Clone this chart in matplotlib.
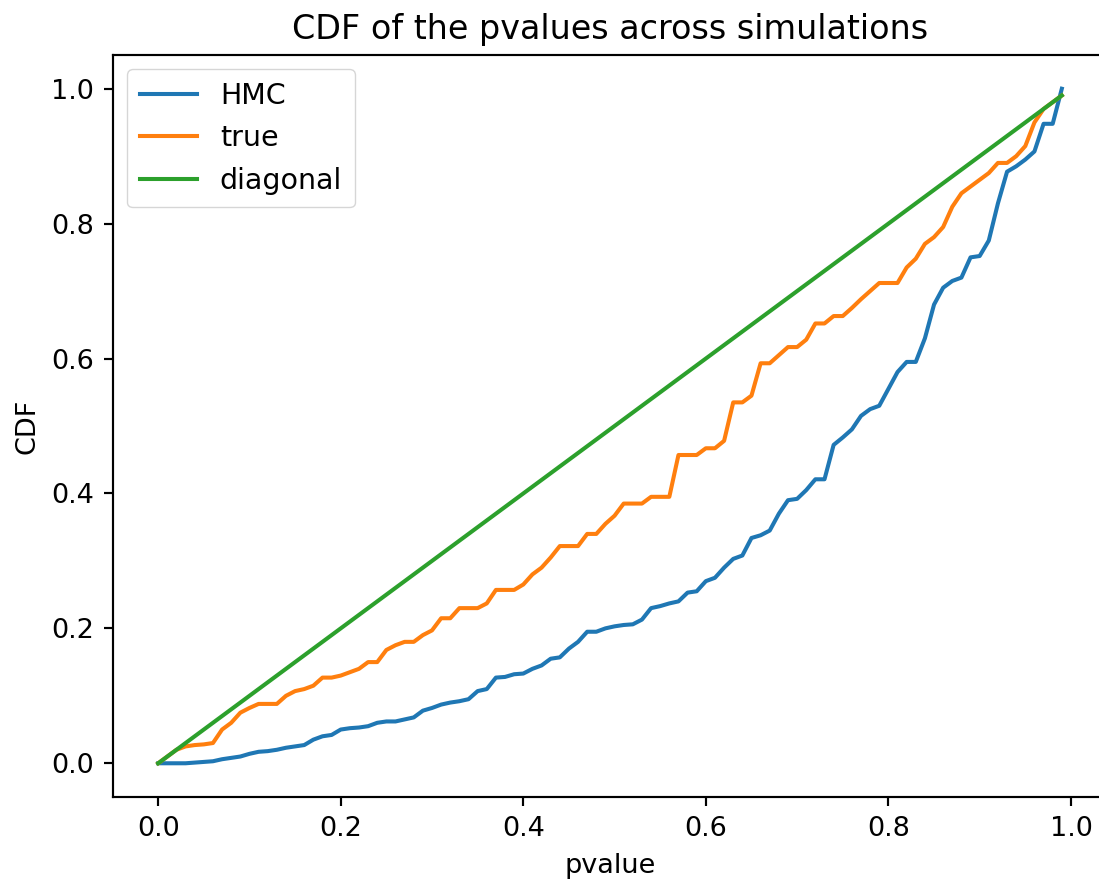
import numpy as np
import matplotlib
matplotlib.use("Agg")
from matplotlib import pyplot as plt

# pvalue grid, 0.00 .. 0.99
pvals = np.arange(100) / 100

hmc_cdf = [
    0.0, 0.0, 0.0, 0.0, 0.001, 0.002, 0.003, 0.006, 0.008, 0.01,
    0.014, 0.017, 0.018, 0.02, 0.023, 0.025, 0.027, 0.035, 0.04, 0.042,
    0.05, 0.052, 0.053, 0.055, 0.06, 0.062, 0.062, 0.065, 0.068, 0.078,
    0.082, 0.087, 0.09, 0.092, 0.095, 0.107, 0.11, 0.127, 0.128, 0.132,
    0.133, 0.14, 0.145, 0.155, 0.157, 0.17, 0.18, 0.195, 0.195, 0.2,
    0.203, 0.205, 0.206, 0.213, 0.23, 0.233, 0.237, 0.24, 0.253, 0.255,
    0.27, 0.275, 0.29, 0.303, 0.308, 0.334, 0.338, 0.345, 0.37, 0.39,
    0.392, 0.405, 0.421, 0.421, 0.472, 0.483, 0.495, 0.515, 0.525, 0.53,
    0.555, 0.58, 0.595, 0.595, 0.63, 0.68, 0.705, 0.715, 0.72, 0.75,
    0.752, 0.775, 0.83, 0.877, 0.885, 0.895, 0.907, 0.948, 0.948, 1.0,
]

true_cdf = [
    0.0, 0.01, 0.02, 0.025, 0.027, 0.028, 0.03, 0.05, 0.06, 0.075,
    0.082, 0.088, 0.088, 0.088, 0.1, 0.107, 0.11, 0.115, 0.127, 0.127,
    0.13, 0.135, 0.14, 0.15, 0.15, 0.168, 0.175, 0.18, 0.18, 0.19,
    0.197, 0.215, 0.215, 0.23, 0.23, 0.23, 0.237, 0.257, 0.257, 0.257,
    0.265, 0.28, 0.29, 0.305, 0.322, 0.322, 0.322, 0.34, 0.34, 0.355,
    0.367, 0.385, 0.385, 0.385, 0.395, 0.395, 0.395, 0.457, 0.457, 0.457,
    0.467, 0.467, 0.478, 0.535, 0.535, 0.545, 0.593, 0.593, 0.605, 0.617,
    0.617, 0.628, 0.652, 0.652, 0.663, 0.663, 0.675, 0.688, 0.7, 0.712,
    0.712, 0.712, 0.735, 0.748, 0.77, 0.78, 0.795, 0.825, 0.845, 0.855,
    0.865, 0.875, 0.89, 0.89, 0.9, 0.915, 0.95, 0.97, 0.98, 0.99,
]

s = 1.95  # scale factor vs default sizes
plt.rcParams['font.size'] = 10 * s

fig = plt.figure(figsize=(10.99, 8.84), dpi=100)
ax = fig.add_axes([113 / 1099, 1 - 797 / 884, 994 / 1099, 742 / 884])

ax.plot(pvals, hmc_cdf, label="HMC", lw=1.5 * s)
ax.plot(pvals, true_cdf, label="true", lw=1.5 * s)
ax.plot(pvals, pvals, label="diagonal", lw=1.5 * s)

ax.set_title("CDF of the pvalues across simulations", fontsize=24, pad=6 * s)
ax.set_xlabel("pvalue", labelpad=4 * s)
ax.set_ylabel("CDF", labelpad=4 * s)
ax.tick_params(width=0.8 * s, length=3.5 * s, pad=3.5 * s)
for sp in ax.spines.values():
    sp.set_linewidth(0.8 * s)
ax.legend(loc="upper left", fontsize=20.5, handlelength=2.0, borderpad=0.45)

fig.savefig("out.png", dpi=100)
